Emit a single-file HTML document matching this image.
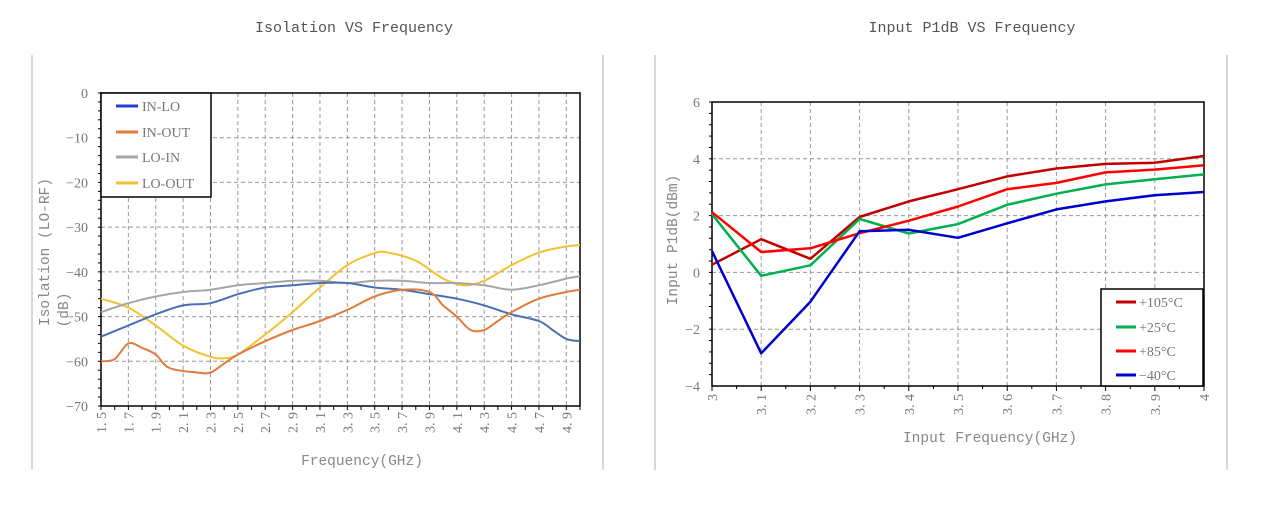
<!DOCTYPE html>
<html><head><meta charset="utf-8"><style>
html,body{margin:0;padding:0;background:#fff;}
svg{display:block;}
text{font-family:"Liberation Mono","Noto Serif CJK SC",monospace;fill:#666;}
.t{fill:#555;font-size:15px;}
.n{font-family:"Liberation Serif","Noto Serif CJK SC",serif;font-size:14px;fill:#777;}
.m{font-family:"Liberation Mono",monospace;font-size:14.5px;fill:#888;}
</style></head><body>
<svg id="s" width="1263" height="506" xmlns="http://www.w3.org/2000/svg">
<line x1="32" y1="55" x2="32" y2="470" stroke="#d8d8d8" stroke-width="2"/>
<line x1="603" y1="55" x2="603" y2="470" stroke="#d8d8d8" stroke-width="2"/>
<line x1="655" y1="55" x2="655" y2="470" stroke="#d8d8d8" stroke-width="2"/>
<line x1="1227" y1="55" x2="1227" y2="470" stroke="#d8d8d8" stroke-width="2"/>
<text class="t" x="354" y="32" text-anchor="middle">Isolation VS Frequency</text>
<text class="t" x="972" y="32" text-anchor="middle">Input P1dB VS Frequency</text>
<g id="g"></g>
</svg>
<script>
var g=document.getElementById('g'),o='';
function L(x1,y1,x2,y2,c,w,d){o+='<line x1="'+x1+'" y1="'+y1+'" x2="'+x2+'" y2="'+y2+'" stroke="'+c+'" stroke-width="'+(w||1)+'"'+(d?' stroke-dasharray="'+d+'"':'')+'/>';}
function T(x,y,s,cl,a,r){o+='<text class="'+cl+'" x="'+x+'" y="'+y+'" text-anchor="'+(a||'middle')+'"'+(r?' transform="rotate(-90 '+x+' '+y+')"':'')+'>'+s+'</text>';}
function P(pts,c,w){o+='<polyline fill="none" stroke="'+c+'" stroke-width="'+w+'" stroke-linejoin="round" points="'+pts.join(' ')+'"/>';}
function S(p,c,w){var d='M'+p[0][0]+','+p[0][1];for(var i=0;i<p.length-1;i++){var a=p[i-1]||p[i],b=p[i],e=p[i+1],f=p[i+2]||e;
d+=' C'+(b[0]+(e[0]-a[0])/6).toFixed(1)+','+(b[1]+(e[1]-a[1])/6).toFixed(1)+' '+(e[0]-(f[0]-b[0])/6).toFixed(1)+','+(e[1]-(f[1]-b[1])/6).toFixed(1)+' '+e[0].toFixed(1)+','+e[1].toFixed(1);}
o+='<path d="'+d+'" fill="none" stroke="'+c+'" stroke-width="'+w+'"/>';}
var X0=101,X1=580,Y0=93,Y1=406;
function lx(f){return X0+(f-1.5)/3.5*(X1-X0);} function ly(v){return Y0+(-v)/70*(Y1-Y0);}
for(var v=-10;v>=-60;v-=10)L(X0,ly(v),X1,ly(v),'#999',1,'4,3');
for(var i=1;i<=17;i++){var f=1.5+i*0.2;L(lx(f),Y0,lx(f),Y1,'#999',1,'4,3');}
for(var v=0;v>=-70;v-=2)L(X0-3,ly(v),X0,ly(v),'#000',1);
for(var f=1.5;f<=5.001;f+=0.1)L(lx(f),Y1,lx(f),Y1+4,'#000',1);
o+='<rect x="'+X0+'" y="'+Y0+'" width="'+(X1-X0)+'" height="'+(Y1-Y0)+'" fill="none" stroke="#000" stroke-width="1.5"/>';
for(var v=0;v>=-70;v-=10)T(88,ly(v)+5,v==0?'0':'−'+(-v),'n','end');
var xl=['1.5','1.7','1.9','2.1','2.3','2.5','2.7','2.9','3.1','3.3','3.5','3.7','3.9','4.1','4.3','4.5','4.7','4.9'];
for(var i=0;i<xl.length;i++){var x=lx(1.5+i*0.2);T(x+5,412,xl[i].replace('.','. '),'n','end',1);}
T(362,465,'Frequency(GHz)','m');
T(49,252,'Isolation (LO-RF)','m','middle',1);
T(68,310,'(dB)','m','middle',1);
function ser(d,c){var p=[];for(var i=0;i<d.length;i+=2){p.push([lx(d[i]),ly(d[i+1])]);}S(p,c,2);}
ser([1.5,-46,1.7,-48,1.9,-52,2.1,-56.5,2.3,-59,2.4,-59.3,2.5,-58.5,2.7,-54,2.9,-49,3.1,-43.5,3.3,-38.5,3.5,-35.8,3.6,-35.7,3.8,-37.5,4.0,-41.5,4.15,-43,4.3,-42,4.5,-38.5,4.7,-35.7,4.9,-34.3,5.0,-34],'#f2c232');
ser([1.5,-49,1.7,-47,1.9,-45.5,2.1,-44.5,2.3,-44,2.5,-43,2.7,-42.5,2.9,-42,3.1,-42,3.3,-42.5,3.5,-42,3.7,-42,3.9,-42.5,4.1,-42.5,4.3,-43,4.5,-44,4.7,-43,4.9,-41.5,5.0,-41],'#a6a6a6');
ser([1.5,-54.5,1.7,-52,1.9,-49.5,2.1,-47.5,2.3,-47,2.5,-45,2.7,-43.5,2.9,-43,3.1,-42.5,3.3,-42.5,3.5,-43.5,3.7,-44,3.9,-45,4.1,-46,4.3,-47.5,4.5,-49.5,4.7,-51,4.8,-53,4.9,-55,5.0,-55.5],'#4a6fb5');
ser([1.5,-60,1.6,-59.5,1.7,-56,1.8,-57,1.9,-58.5,2.0,-61.5,2.2,-62.5,2.3,-62.5,2.4,-60.5,2.5,-58.5,2.7,-55.5,2.9,-53,3.1,-51,3.3,-48.5,3.5,-45.5,3.7,-44,3.9,-44.5,4.0,-47.5,4.1,-50,4.2,-53,4.3,-53,4.4,-51,4.5,-49,4.7,-46,4.9,-44.5,5.0,-44],'#e07b3c');
o+='<rect x="101" y="93" width="110" height="104" fill="#fff" stroke="#000" stroke-width="1.5"/>';
var lg=[['IN-LO','#1f3fd0',106],['IN-OUT','#e07b3c',132],['LO-IN','#a6a6a6',157],['LO-OUT','#f2c232',183]];
lg.forEach(function(a){L(116,a[2],138,a[2],a[1],3);T(142,a[2]+5,a[0],'n','start');});
var A0=712,A1=1204,B0=102,B1=386;
function rx(f){return A0+(f-3)*(A1-A0);} function ry(v){return B0+(6-v)/10*(B1-B0);}
for(var v=4;v>=-2;v-=2)L(A0,ry(v),A1,ry(v),'#999',1,'4,3');
for(var i=1;i<10;i++)L(rx(3+i*0.1),B0,rx(3+i*0.1),B1,'#999',1,'4,3');
for(var v=6;v>=-4;v-=0.4)L(A0-3,ry(v),A0,ry(v),'#000',1);
for(var i=0;i<=20;i++)L(rx(3+i*0.05),B1,rx(3+i*0.05),B1+(i%2?3:5),'#000',1);
o+='<rect x="'+A0+'" y="'+B0+'" width="'+(A1-A0)+'" height="'+(B1-B0)+'" fill="none" stroke="#000" stroke-width="1.5"/>';
for(var v=6;v>=-4;v-=2)T(700,ry(v)+5,v<0?'−'+(-v):''+v,'n','end');
var rl=['3','3. 1','3. 2','3. 3','3. 4','3. 5','3. 6','3. 7','3. 8','3. 9','4'];
for(var i=0;i<rl.length;i++)T(rx(3+i*0.1)+5,394,rl[i],'n','end',1);
T(990,442,'Input Frequency(GHz)','m');
T(677,240,'Input P1dB(dBm)','m','middle',1);
function rs(d,c){var p=[];for(var i=0;i<d.length;i++)p.push(rx(3+i*0.1).toFixed(1)+','+ry(d[i]).toFixed(1));P(p,c,2.5);}
rs([0.27,1.17,0.48,1.95,2.5,2.93,3.38,3.66,3.82,3.86,4.1],'#c00000');
rs([2.05,-0.12,0.25,1.88,1.37,1.7,2.38,2.77,3.1,3.28,3.45],'#00b050');
rs([2.12,0.72,0.85,1.38,1.82,2.32,2.93,3.15,3.52,3.62,3.77],'#ff0000');
rs([0.75,-2.85,-1.03,1.45,1.5,1.22,1.73,2.22,2.5,2.72,2.83],'#0000cc');
o+='<rect x="1101" y="289" width="102" height="97" fill="#fff" stroke="#000" stroke-width="1.5"/>';
var rg=[['+105°C','#c00000',302],['+25°C','#00b050',327],['+85°C','#ff0000',351],['−40°C','#0000cc',375]];
rg.forEach(function(a){L(1116,a[2],1136,a[2],a[1],3);T(1139,a[2]+5,a[0],'n','start');});
g.innerHTML=o;
</script>
</body></html>
